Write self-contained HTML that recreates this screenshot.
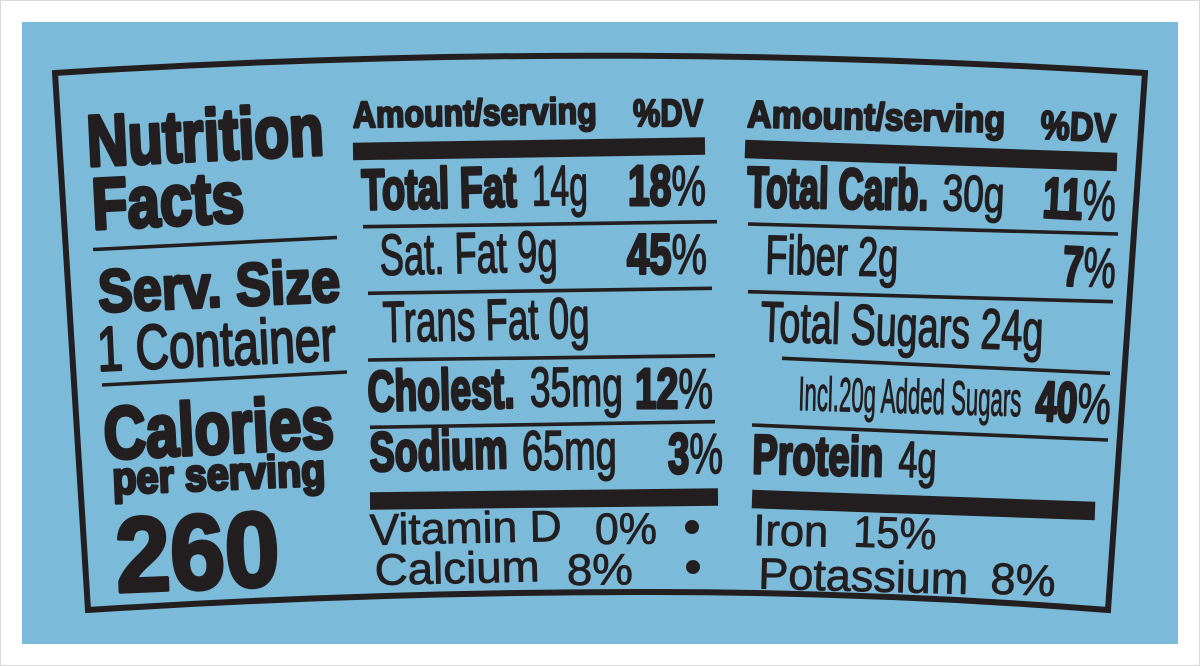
<!DOCTYPE html>
<html><head><meta charset="utf-8"><style>
html,body{margin:0;padding:0;background:#fff;}
svg{display:block;}
text{fill:#231f20;stroke:#231f20;stroke-linejoin:round;}
.b{font-family:"Liberation Sans Narrow","Liberation Sans",sans-serif;font-weight:bold;stroke-width:3.1;}
.bb{font-family:"Liberation Sans Narrow","Liberation Sans",sans-serif;font-weight:bold;stroke-width:3.9;}
.r{font-family:"Liberation Sans Narrow","Liberation Sans",sans-serif;font-weight:normal;stroke-width:1.5;}
.h{font-family:"Liberation Sans",sans-serif;font-weight:normal;stroke-width:0.8;}
.p{font-weight:normal;stroke-width:1.4;}
</style></head><body>
<svg width="1200" height="666" viewBox="0 0 1200 666" xmlns="http://www.w3.org/2000/svg">
<rect x="0.5" y="0.5" width="1199" height="665" fill="#fff" stroke="#d9d9d9" stroke-width="1"/>
<rect x="22" y="22" width="1156" height="622" fill="#7bbad9"/>
<path d="M55,73 Q600,38.4 1145,73 L1108,610 Q879,592 650,592 Q369,592 88,610 Z" fill="none" stroke="#231f20" stroke-width="6" stroke-linejoin="miter"/>

<!-- left column -->
<text class="bb" x="88" y="166" font-size="72" textLength="237" lengthAdjust="spacingAndGlyphs" transform="rotate(-2.8 88 166)">Nutrition</text>
<text class="bb" x="93" y="229" font-size="72" textLength="152" lengthAdjust="spacingAndGlyphs" transform="rotate(-2.8 93 229)">Facts</text>
<path d="M93,249.5 L337,237.5" stroke="#231f20" stroke-width="3.6"/>
<text class="b" x="99" y="312" font-size="60" textLength="242" lengthAdjust="spacingAndGlyphs" transform="rotate(-2.6 99 312)">Serv. Size</text>
<text class="r" x="98" y="371" font-size="63" textLength="239" lengthAdjust="spacingAndGlyphs" transform="rotate(-2.6 98 371)" style="stroke-width:2.2">1 Container</text>
<path d="M102,385 L347,372" stroke="#231f20" stroke-width="3.6"/>
<text class="bb" x="105" y="459" font-size="74" textLength="230" lengthAdjust="spacingAndGlyphs" transform="rotate(-2.9 105 459)">Calories</text>
<text class="b" x="113" y="494" font-size="45" textLength="213" lengthAdjust="spacingAndGlyphs" transform="rotate(-2.4 113 494)">per serving</text>
<text class="bb" x="117" y="592" font-size="106" textLength="164" lengthAdjust="spacingAndGlyphs" transform="rotate(-2.4 117 592)">260</text>

<!-- middle column -->
<text class="b" x="353" y="127.5" font-size="37" textLength="244" lengthAdjust="spacingAndGlyphs" transform="rotate(-1.0 353 127.5)" style="stroke-width:2.2">Amount/serving</text>
<text class="b" x="633" y="126" font-size="38" textLength="70" lengthAdjust="spacingAndGlyphs" style="stroke-width:2.2">%DV</text>
<path d="M353,151.5 L705,146" stroke="#231f20" stroke-width="17.5"/>
<text class="b" x="362" y="209.5" font-size="57" textLength="155" lengthAdjust="spacingAndGlyphs" transform="rotate(-1.3 362 209.5)">Total Fat</text>
<text class="r" x="532" y="205.5" font-size="57" textLength="56" lengthAdjust="spacingAndGlyphs" transform="rotate(-0.6 532 205.5)">14g</text>
<text class="b" x="628" y="205" font-size="57" textLength="78" lengthAdjust="spacingAndGlyphs">18<tspan class="p">%</tspan></text>
<path d="M363,226.7 L717,221.7" stroke="#231f20" stroke-width="3.6"/>
<text class="r" x="380" y="275" font-size="58" textLength="178" lengthAdjust="spacingAndGlyphs" transform="rotate(-1.3 380 275)">Sat. Fat 9g</text>
<text class="b" x="627" y="273.5" font-size="57" textLength="80" lengthAdjust="spacingAndGlyphs">45<tspan class="p">%</tspan></text>
<path d="M368,293.3 L712,288.3" stroke="#231f20" stroke-width="3.6"/>
<text class="r" x="383" y="342" font-size="58" textLength="207" lengthAdjust="spacingAndGlyphs" transform="rotate(-1.2 383 342)">Trans Fat 0g</text>
<path d="M368,360 L715,355.7" stroke="#231f20" stroke-width="3.6"/>
<text class="b" x="368" y="411" font-size="57" textLength="147" lengthAdjust="spacingAndGlyphs" transform="rotate(-1.4 368 411)">Cholest.</text>
<text class="r" x="530" y="406.5" font-size="56" textLength="93" lengthAdjust="spacingAndGlyphs" transform="rotate(-0.5 530 406.5)">35mg</text>
<text class="b" x="635" y="408" font-size="57" textLength="78" lengthAdjust="spacingAndGlyphs">12<tspan class="p">%</tspan></text>
<path d="M370,427.3 L715,421.7" stroke="#231f20" stroke-width="3.6"/>
<text class="b" x="370" y="471" font-size="55" textLength="138" lengthAdjust="spacingAndGlyphs" transform="rotate(-1.4 370 471)">Sodium</text>
<text class="r" x="522" y="470" font-size="56" textLength="95" lengthAdjust="spacingAndGlyphs" transform="rotate(-0.6 522 470)">65mg</text>
<text class="b" x="668" y="473" font-size="57" textLength="55" lengthAdjust="spacingAndGlyphs" transform="rotate(0.3 668 473)">3<tspan class="p">%</tspan></text>
<path d="M370,501 L718,497" stroke="#231f20" stroke-width="17.5"/>
<text class="h" x="370" y="545" font-size="44" textLength="192" lengthAdjust="spacingAndGlyphs" transform="rotate(-1.2 370 545)">Vitamin D</text>
<text class="h" x="595" y="544" font-size="44" textLength="62" lengthAdjust="spacingAndGlyphs" transform="rotate(-0.3 595 544)">0%</text>
<circle cx="692" cy="527" r="7" fill="#231f20"/>
<text class="h" x="375" y="585" font-size="44" textLength="165" lengthAdjust="spacingAndGlyphs" transform="rotate(-1.3 375 585)">Calcium</text>
<text class="h" x="567" y="585" font-size="44" textLength="66" lengthAdjust="spacingAndGlyphs" transform="rotate(-0.5 567 585)">8%</text>
<circle cx="693" cy="567" r="7" fill="#231f20"/>

<!-- right column -->
<text class="b" x="747" y="127" font-size="38" textLength="258" lengthAdjust="spacingAndGlyphs" transform="rotate(1.2 747 127)" style="stroke-width:2.2">Amount/serving</text>
<text class="b" x="1040" y="138.5" font-size="40" textLength="75" lengthAdjust="spacingAndGlyphs" transform="rotate(2.8 1040 138.5)" style="stroke-width:2.2">%DV</text>
<path d="M745,149 L1117,162" stroke="#231f20" stroke-width="18.5"/>
<text class="b" x="747" y="206.5" font-size="57" textLength="181" lengthAdjust="spacingAndGlyphs" transform="rotate(1.0 747 206.5)">Total Carb.</text>
<text class="r" x="942" y="210" font-size="51" textLength="62" lengthAdjust="spacingAndGlyphs" transform="rotate(2.2 942 210)">30g</text>
<text class="b" x="1042" y="217" font-size="57" textLength="73" lengthAdjust="spacingAndGlyphs" transform="rotate(3.0 1042 217)">11<tspan class="p">%</tspan></text>
<path d="M748,224 L1118,234" stroke="#231f20" stroke-width="3.6"/>
<text class="r" x="765" y="273.5" font-size="55" textLength="133" lengthAdjust="spacingAndGlyphs" transform="rotate(1.2 765 273.5)">Fiber 2g</text>
<text class="b" x="1062" y="285" font-size="56" textLength="53" lengthAdjust="spacingAndGlyphs" transform="rotate(3.0 1062 285)">7<tspan class="p">%</tspan></text>
<path d="M748,291.7 L1113,301.7" stroke="#231f20" stroke-width="3.6"/>
<text class="r" x="760" y="341" font-size="57" textLength="283" lengthAdjust="spacingAndGlyphs" transform="rotate(1.9 760 341)">Total Sugars 24g</text>
<path d="M782,358.3 L1110,373.3" stroke="#231f20" stroke-width="3.6"/>
<text class="r" x="798" y="410" font-size="48" textLength="223" lengthAdjust="spacingAndGlyphs" transform="rotate(1.6 798 410)" style="stroke-width:1.1">Incl.20g Added Sugars</text>
<text class="b" x="1035" y="420" font-size="56" textLength="75" lengthAdjust="spacingAndGlyphs" transform="rotate(2.9 1035 420)">40<tspan class="p">%</tspan></text>
<path d="M752,425 L1108,440" stroke="#231f20" stroke-width="3.6"/>
<text class="b" x="752" y="473" font-size="55" textLength="131" lengthAdjust="spacingAndGlyphs" transform="rotate(1.3 752 473)">Protein</text>
<text class="r" x="898" y="476.5" font-size="51" textLength="38" lengthAdjust="spacingAndGlyphs" transform="rotate(2.0 898 476.5)">4g</text>
<path d="M752,499 L1095,511" stroke="#231f20" stroke-width="18.5"/>
<text class="h" x="753" y="545" font-size="44" textLength="75" lengthAdjust="spacingAndGlyphs" transform="rotate(1.2 753 545)">Iron</text>
<text class="h" x="853" y="546.5" font-size="44" textLength="83" lengthAdjust="spacingAndGlyphs" transform="rotate(1.8 853 546.5)">15%</text>
<text class="h" x="758" y="588.5" font-size="44" textLength="210" lengthAdjust="spacingAndGlyphs" transform="rotate(1.5 758 588.5)">Potassium</text>
<text class="h" x="990" y="593.5" font-size="44" textLength="65" lengthAdjust="spacingAndGlyphs" transform="rotate(2.4 990 593.5)">8%</text>
</svg>
</body></html>
